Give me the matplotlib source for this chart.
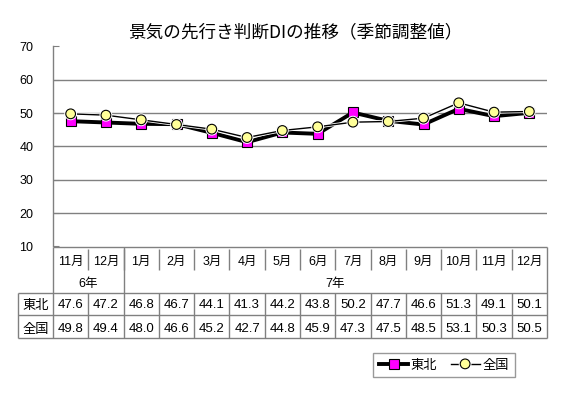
import matplotlib
matplotlib.use("Agg")
import matplotlib.pyplot as plt
import matplotlib.patheffects as pe

plt.rcParams['font.family'] = ['Liberation Sans', 'Noto Sans CJK JP', 'DejaVu Sans']

# ---- data ----
title = "景気の先行き判断DIの推移（季節調整値）"
months = ["11月", "12月", "1月", "2月", "3月", "4月", "5月", "6月",
          "7月", "8月", "9月", "10月", "11月", "12月"]
year_labels = ["6年", "7年"]
year_spans = [(0, 1), (2, 13)]
tohoku = [47.6, 47.2, 46.8, 46.7, 44.1, 41.3, 44.2, 43.8, 50.2, 47.7, 46.6, 51.3, 49.1, 50.1]
zenkoku = [49.8, 49.4, 48.0, 46.6, 45.2, 42.7, 44.8, 45.9, 47.3, 47.5, 48.5, 53.1, 50.3, 50.5]
series_names = ["東北", "全国"]
yticks = [10, 20, 30, 40, 50, 60, 70]

W, H = 563, 393
fig = plt.figure(figsize=(W / 100, H / 100), dpi=100)

def fx(px):
    return px / W

def fy(py):
    return 1 - py / H

# ---- chart axes ----
left_px, right_px, top_px, bot_px = 53, 547, 46.5, 246.5
ax = fig.add_axes([fx(left_px), fy(bot_px), fx(right_px) - fx(left_px), fy(top_px) - fy(bot_px)])
x = list(range(len(months)))
ax.set_xlim(-0.5, len(months) - 0.5)
ax.set_ylim(10, 70)
ax.set_yticks(yticks)
ax.set_yticklabels([str(v) for v in yticks], fontsize=9)
ax.tick_params(axis='y', direction='in', length=4, color='#808080', pad=14)
ax.set_xticks([])
for s in ['top', 'right', 'bottom']:
    ax.spines[s].set_visible(False)
ax.spines['left'].set_color('#808080')
ax.spines['left'].set_linewidth(1)
for v in yticks[1:-1]:
    ax.axhline(v, color='#808080', lw=1, zorder=1)

gray = '#808080'
l1, = ax.plot(x, tohoku, color='black', lw=2.8, marker='s', ms=6.5,
              mfc='#FF00FF', mec='black', mew=0.8, zorder=3, label=series_names[0])
l2, = ax.plot(x, zenkoku, color='black', lw=1.0, marker='o', ms=7,
              mfc='#FFFF99', mec='black', mew=0.8, zorder=4, label=series_names[1],
              path_effects=[pe.Stroke(linewidth=2.2, foreground='white'), pe.Normal()])

fig.text(fx(295), fy(32.5), title, ha='center', va='center', fontsize=12.7,
         family=['Noto Sans CJK JP', 'DejaVu Sans'])

# ---- data table ----
row_edges = [246.5, 270, 292.5, 315, 338]
text_y = [262, 284.5, 305.5, 329]
col_w = (right_px - left_px) / len(months)
tab = fig.add_axes([fx(left_px - col_w), fy(row_edges[-1]),
                    fx(right_px) - fx(left_px - col_w),
                    fy(row_edges[0]) - fy(row_edges[-1])])
tab.set_xlim(-1.5, len(months) - 0.5)
tab.set_ylim(row_edges[-1], row_edges[0])
tab.axis('off')
lk = dict(color=gray, lw=1, solid_capstyle='butt', clip_on=False)
n = len(months)
# horizontal lines
tab.plot([-0.5, n - 0.5], [row_edges[0]] * 2, **lk)
for r in row_edges[2:]:
    tab.plot([-1.5, n - 0.5], [r] * 2, **lk)
# vertical lines
tab.plot([-0.5, -0.5], [row_edges[0], row_edges[-1]], **lk)
tab.plot([n - 0.5, n - 0.5], [row_edges[0], row_edges[-1]], **lk)
tab.plot([-1.5, -1.5], [row_edges[2], row_edges[-1]], **lk)
for i in range(n - 1):
    xb = i + 0.5
    tab.plot([xb, xb], [row_edges[0] + 2, row_edges[1]], **lk)
    tab.plot([xb, xb], [row_edges[2], row_edges[-1]], **lk)
for a, b in year_spans[:-1]:
    tab.plot([b + 0.5, b + 0.5], [row_edges[0], row_edges[2]], **lk)

for i, m in enumerate(months):
    tab.text(i, text_y[0], m, ha='center', va='center', fontsize=9)
for lab, (a, b) in zip(year_labels, year_spans):
    tab.text((a + b) / 2, text_y[1], lab, ha='center', va='center', fontsize=9)
for k, (name, vals) in enumerate(zip(series_names, [tohoku, zenkoku])):
    tab.text(-1, text_y[2 + k], name, ha='center', va='center', fontsize=9.5,
             family=['Noto Sans CJK JP'])
    for i, v in enumerate(vals):
        tab.text(i, text_y[2 + k], f"{v:.1f}", ha='center', va='center', fontsize=9.5)

# ---- legend ----
leg = fig.legend(handles=[l1, l2], loc='center',
                 bbox_to_anchor=(fx(444), fy(365)), ncol=2,
                 frameon=True, fancybox=False, edgecolor=gray, handlelength=2.2,
                 handletextpad=0.2, columnspacing=1.0, borderpad=0.45,
                 prop={'family': ['Noto Sans CJK JP'], 'size': 9.5})
leg.get_frame().set_linewidth(1)

fig.savefig("out.png", dpi=100)
